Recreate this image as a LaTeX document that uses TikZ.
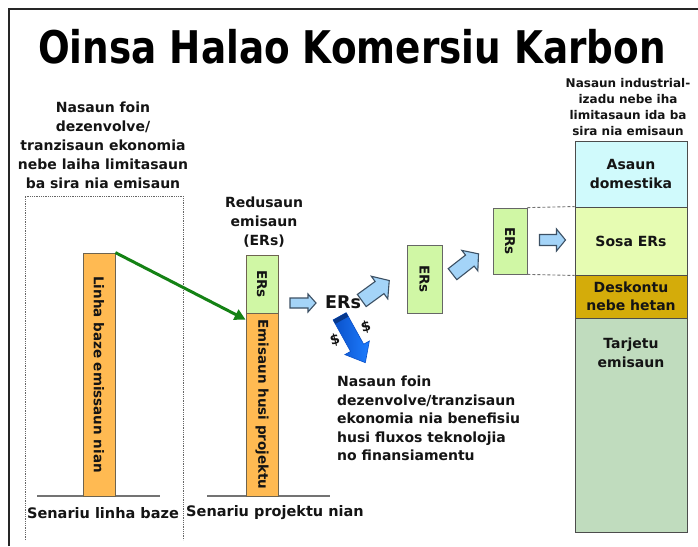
\documentclass[tikz,border=0pt]{standalone}
\usepackage{fontspec}
\setmainfont{DejaVu Sans}
\newfontfamily\titlefont[FakeStretch=0.83]{DejaVu Sans}
\usetikzlibrary{calc,arrows.meta}
\definecolor{textc}{RGB}{20,20,20}
\definecolor{orangebar}{RGB}{255,186,82}
\definecolor{greenbox}{RGB}{208,247,165}
\definecolor{cyanbox}{RGB}{208,250,252}
\definecolor{sosabox}{RGB}{230,252,178}
\definecolor{deskbox}{RGB}{212,172,10}
\definecolor{tarjbox}{RGB}{192,220,190}
\definecolor{lightarrow}{RGB}{164,212,248}
\definecolor{arrowedge}{RGB}{60,80,100}
\definecolor{bluedark}{RGB}{10,80,200}
\definecolor{bluelight}{RGB}{30,125,255}
\definecolor{barborder}{RGB}{110,100,80}
\definecolor{greenline}{RGB}{20,130,20}
% #1 centre, #2 angle, #3 length, #4 shaft width, #5 head width, #6 head length, #7 style
\newcommand\blkarrow[7]{%
  \path[#7, shift={(#1)}, rotate=#2]
    (-0.5*#3,-0.5*#4) -- (0.5*#3-#6,-0.5*#4) -- (0.5*#3-#6,-0.5*#5) -- (0.5*#3,0)
    -- (0.5*#3-#6,0.5*#5) -- (0.5*#3-#6,0.5*#4) -- (-0.5*#3,0.5*#4) -- cycle;}
\begin{document}
\begin{tikzpicture}[x=1pt,y=-1pt,
  txt/.style={font=\bfseries\fontsize{14}{19}\selectfont, align=center, text=textc, inner sep=0pt},
  smalltxt/.style={font=\bfseries\fontsize{12}{15.8}\selectfont, align=center, text=textc, inner sep=0pt},
  bar/.style={draw=barborder, line width=0.8pt, inner sep=0pt, font=\bfseries\fontsize{13.5}{16}\selectfont, text=textc},
  stackbox/.style={draw=black!70, line width=0.9pt, minimum width=112pt, inner sep=0pt, font=\bfseries\fontsize{14}{18.5}\selectfont, align=center, text=textc},
  lightarr/.style={draw=arrowedge, fill=lightarrow, line width=1.1pt, line join=miter},
  bluearr/.style={draw=bluedark, line width=0.6pt, left color=bluedark, right color=bluelight},
  baseline/.style={draw=black!55, line width=1.3pt},
  dotbox/.style={draw=black!60, line width=0.8pt, densely dotted},
  frameline/.style={draw=black!85, line width=1.3pt}
]
\useasboundingbox (0,0) rectangle (698,546);
\fill[white] (0,0) rectangle (698,546);
\draw[frameline] (9,546) -- (9,9) -- (698,9);

% title
\node[anchor=base, inner sep=0pt, font=\titlefont\bfseries\fontsize{45}{50}\selectfont, text=black] (title) at (352,63) {Oinsa Halao Komersiu Karbon};

% left text and dotted box
\node[txt] (lefttxt) at (103,145) {Nasaun foin\\dezenvolve/\\tranzisaun ekonomia\\nebe laiha limitasaun\\ba sira nia emisaun};
\draw[dotbox] (25,540) -- (25,196) -- (183,196) -- (183,540);

% baselines
\draw[baseline] (37,496) -- (160,496);
\draw[baseline] (207,496) -- (330,496);

% left bar
\node[bar, fill=orangebar, rotate=-90, minimum width=243pt, minimum height=32pt] (lbar) at (99,374.5) {Linha baze emissaun nian};

% middle bar
\node[bar, fill=greenbox, rotate=-90, minimum width=58pt, minimum height=32pt] (mers) at (262,284) {ERs};
\node[bar, fill=orangebar, rotate=-90, minimum width=183pt, minimum height=32pt] (mproj) at (262,404.5) {Emisaun husi projektu};

\node[txt, text depth=0pt] (redtxt) at (264,221) {Redusaun\\emisaun\\(ERs)};

% labels
\node[txt, font=\bfseries\fontsize{14.5}{18}\selectfont] (scen1) at (103,513) {Senariu linha baze};
\node[txt, font=\bfseries\fontsize{14.5}{18}\selectfont] (scen2) at (275,513) {Senariu projektu nian};

% green arrow
\coordinate (gtip) at ($(mproj.south west)+(0,7)$);
\draw[greenline, line width=3pt, -{Triangle[length=11pt,width=11pt]}] (lbar.north west) -- (gtip);

% flow arrows and ERs
\blkarrow{303,303}{0}{26}{10}{18}{8}{lightarr}
\node[txt, font=\bfseries\fontsize{17.5}{20}\selectfont] (erstxt) at (343,302) {ERs};
\blkarrow{352.5,339.5}{-61}{53}{15}{28}{17}{bluearr}
\fill[bluedark!70!black, shift={(352.5,339.5)}, rotate=-61] (-26.5,-7.5) rectangle (-22,7.5);
\node[txt, font=\bfseries\fontsize{14}{15}\selectfont, rotate=15] (dol1) at (335,340) {\$};
\node[txt, font=\bfseries\fontsize{14}{15}\selectfont, rotate=15] (dol2) at (366,327) {\$};
\blkarrow{375.5,290.5}{36}{34}{15}{28}{12}{lightarr}
\node[bar, draw=black!60, fill=greenbox, rotate=-90, minimum width=68pt, minimum height=35pt] (ers2) at (424.5,279) {ERs};
\blkarrow{465.5,264}{38}{33}{14}{26}{11}{lightarr}
\node[bar, draw=black!60, fill=greenbox, rotate=-90, minimum width=66pt, minimum height=34pt] (ers3) at (510,241) {ERs};
\blkarrow{552.5,240}{0}{26}{11}{22}{9}{lightarr}

% right stack
\node[smalltxt] (righttxt) at (628,107) {Nasaun industrial-\\izadu nebe iha\\limitasaun ida ba\\sira nia emisaun};
\node[stackbox, fill=cyanbox, minimum height=66pt] (asaun) at (631,174) {Asaun\\domestika};
\node[stackbox, fill=sosabox, minimum height=68pt] (sosa) at (631,241) {Sosa ERs};
\node[stackbox, fill=deskbox, minimum height=43pt] (desk) at (631,296.5) {Deskontu\\nebe hetan};
\node[stackbox, fill=tarjbox, minimum height=214pt] (tarj) at (631,425) {};
\node[txt, font=\bfseries\fontsize{14}{18.5}\selectfont] (tarjtxt) at (631,353) {Tarjetu\\emisaun};

% dashed guides
\draw[black!55, line width=0.9pt, densely dashed] (ers3.north west) -- (sosa.north west);
\draw[black!55, line width=0.9pt, densely dashed] (ers3.north east) -- (sosa.south west);

% bottom text
\node[txt, align=left, anchor=north west, font=\bfseries\fontsize{14}{18.5}\selectfont] (benef) at (337,376) {Nasaun foin\\dezenvolve/tranzisaun\\ekonomia nia benefisiu\\husi fluxos teknolojia\\no finansiamentu};
\end{tikzpicture}
\end{document}
